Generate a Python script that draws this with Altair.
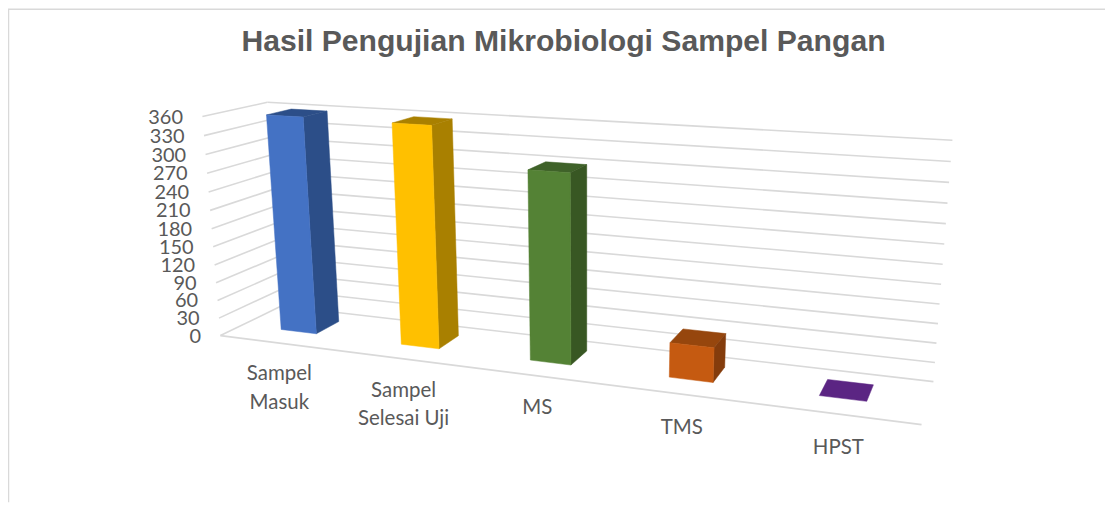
import numpy as np
import pandas as pd
import altair as alt

TITLE = "Hasil Pengujian Mikrobiologi Sampel Pangan"
CATEGORIES = [["Sampel", "Masuk"], ["Sampel", "Selesai Uji"], ["MS"], ["TMS"], ["HPST"]]
VALUES = [358, 357, 299, 54, 0]
FRONT = ["#4472C4", "#FFC000", "#548235", "#C55A11", "#5B2583"]
SIDE = ["#2C4E88", "#A98000", "#385723", "#843C0C", "#5B2583"]
TOP = ["#2C4E88", "#A98000", "#3F6229", "#96460D", "#5B2583"]
TICKS = list(range(0, 361, 30))

VMAX = 360.0
BAR_W = 0.30   # share of one category slot
BAR_SHIFT = -0.003
D0, D1 = 0.35, 0.75   # depth span of a bar

# Calibration of the 3-D frame: (u, depth, value share) -> page position
frame = [
    ((0, 0, 0), (221, 336)), ((1, 0, 0), (924, 425)),
    ((0, 1, 0), (282, 306)), ((1, 1, 0), (936, 382)),
    ((0, 0, 1), (203, 116)), ((0, 1, 1), (268, 102)),
    ((1, 1, 1), (955, 140)),
]
rows = []
for (u, d, v), (px, py) in frame:
    w = [u, d, v, 1]
    rows.append(w + [0, 0, 0, 0] + [-px * c for c in w])
    rows.append([0, 0, 0, 0] + w + [-py * c for c in w])
P = np.linalg.svd(np.array(rows, float))[2][-1].reshape(3, 4)


def proj(u, d, v):
    x, y, z = P @ np.array([u, d, v, 1.0])
    return float(x / z), float(y / z)


poly, grid = [], []


def add_poly(name, color, corners):
    for i, c in enumerate(list(corners) + [corners[0]]):
        x, y = proj(*c)
        poly.append(dict(face=name, seq=i, x=x, y=y, color=color))


def add_grid(name, a, b):
    for i, c in enumerate((a, b)):
        x, y = proj(*c)
        grid.append(dict(line=name, seq=i, x=x, y=y))


for t in TICKS:
    v = t / VMAX
    add_grid(f"back{t}", (0, 1, v), (1, 1, v))
    add_grid(f"left{t}", (0, 0, v), (0, 1, v))
add_grid("floor", (0, 0, 0), (1, 0, 0))

for i, val in enumerate(VALUES):
    u0 = (i + 0.5 - BAR_W / 2) / 5 + BAR_SHIFT
    u1 = (i + 0.5 + BAR_W / 2) / 5 + BAR_SHIFT
    v = val / VMAX
    add_poly(f"{i}top", TOP[i], [(u0, D0, v), (u1, D0, v), (u1, D1, v), (u0, D1, v)])
    if val > 0:
        add_poly(f"{i}side", SIDE[i], [(u1, D0, 0), (u1, D1, 0), (u1, D1, v), (u1, D0, v)])
        add_poly(f"{i}front", FRONT[i], [(u0, D0, 0), (u1, D0, 0), (u1, D0, v), (u0, D0, v)])

tick_rows = []
for t in TICKS:
    x, y = proj(0, 0, t / VMAX)
    tick_rows.append(dict(label=str(t), x=x - 19.5, y=y + 1))
cat_rows = []
for i, lines in enumerate(CATEGORIES):
    u = (i + 0.5) / 5
    x, y = proj(u, 0, 0)
    for j, line in enumerate(lines):
        cat_rows.append(dict(label=line, x=x, y=y + 31 + 3.5 * u + 28.5 * j))

W, H = 1100, 495
xs = alt.Scale(domain=[8, 8 + W], range=[0, W])
ys = alt.Scale(domain=[8, 8 + H], range=[0, H])
X = alt.X("x:Q", scale=xs, axis=None)
Y = alt.Y("y:Q", scale=ys, axis=None)

border = pd.DataFrame({"x": [1108, 8.5, 8.5], "y": [8.5, 8.5, 503], "seq": [0, 1, 2]})
border_layer = alt.Chart(border).mark_line(color="#D9D9D9", strokeWidth=1.5).encode(x=X, y=Y, order="seq:Q")

grid_layer = alt.Chart(pd.DataFrame(grid)).mark_line(strokeWidth=1.6, color="#D9D9D9").encode(
    x=X, y=Y, detail="line:N", order="seq:Q")

poly_layer = alt.Chart(pd.DataFrame(poly)).mark_line(strokeWidth=0.5).encode(
    x=X, y=Y, detail="face:N", order="seq:Q",
    fill=alt.Fill("color:N", scale=None),
    stroke=alt.Stroke("color:N", scale=None))

label_layer = alt.Chart(pd.DataFrame(tick_rows)).mark_text(
    font="Lato", fontSize=20, color="#595959", align="right", baseline="middle").encode(x=X, y=Y, text="label:N")
cat_layer = alt.Chart(pd.DataFrame(cat_rows)).mark_text(
    font="Lato", fontSize=20.5, color="#595959", align="center", baseline="middle").encode(x=X, y=Y, text="label:N")

title_layer = alt.Chart(pd.DataFrame({"label": [TITLE], "x": [565], "y": [41]})).mark_text(
    font="Liberation Sans", fontWeight="bold", fontSize=30.2, color="#595959", align="center", baseline="middle"
).encode(x=X, y=Y, text="label:N")

chart = alt.layer(border_layer, grid_layer, poly_layer, label_layer, cat_layer, title_layer).properties(
    width=W, height=H, padding=0, autosize=alt.AutoSizeParams(type="none")
).configure_view(stroke=None)

chart.save("out.html", embed_options={"renderer": "svg", "actions": False})
